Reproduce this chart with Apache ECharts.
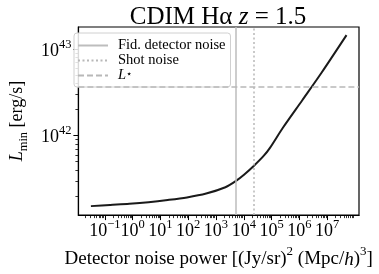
<!DOCTYPE html>
<html><head><meta charset="utf-8">
<script src="https://cdn.jsdelivr.net/npm/echarts@6/dist/echarts.min.js"></script>
<style>html,body{margin:0;padding:0;background:#fff}#c{width:379px;height:274px}</style>
</head><body><div id="c"></div>
<script>
// Detector noise power [(Jy/sr)^2 (Mpc/h)^3]
const noisePower = [0.0313, 0.154, 0.757, 3.72, 18.3, 90.2, 444, 2180, 5120, 1.07e4, 2.38e4, 5.28e4, 8.9e4, 2.60e5, 1.28e6, 6.30e6, 5.00e7];
// L_min [erg/s]
const lMin = [1.53e41, 1.58e41, 1.63e41, 1.70e41, 1.80e41, 1.93e41, 2.14e41, 2.53e41, 2.97e41, 3.57e41, 4.51e41, 5.85e41, 7.26e41, 1.24e42, 2.56e42, 5.31e42, 1.445e43];
const fidDetectorNoise = 5120;
const shotNoise = 2.38e4;
const lStar = 3.69e42;
const xMajorTicks = [1e-1, 1e0, 1e1, 1e2, 1e3, 1e4, 1e5, 1e6, 1e7];
const yMajorTicks = [1e42, 1e43];
const xRange = [0.0111, 1.41e8];
const yRange = [1.205e41, 1.795e43];
const legendNames = ['Fid. detector noise', 'Shot noise', 'L*'];

function minorsIn(range) {
  const out = [];
  const a = Math.floor(Math.log10(range[0])), b = Math.ceil(Math.log10(range[1]));
  for (let e = a; e <= b; e++) for (let m = 2; m <= 9; m++) {
    const v = m * Math.pow(10, e);
    if (v >= range[0] && v <= range[1]) out.push(v);
  }
  return out;
}
const FONT = 'Liberation Serif';
function expLabel(v) {
  const e = Math.round(Math.log10(v));
  return '{b|10}{s|' + (e < 0 ? '\u2212' + (-e) : e) + '}';
}
const tickRich = {
  b: {fontFamily: FONT, fontSize: 18, lineHeight: 22, verticalAlign: 'bottom', color: '#000'},
  s: {fontFamily: FONT, fontSize: 12.5, lineHeight: 12, verticalAlign: 'top', color: '#000'}
};

const chart = echarts.init(document.getElementById('c'), null, {renderer: 'canvas'});
const refLine = (name, type, value, axisKey, color) => ({
  name: name, type: 'line', data: [], z: 1,
  symbol: 'none', showSymbol: false,
  itemStyle: {color: color},
  lineStyle: {color: color, width: 1.5, type: type},
  markLine: {
    silent: true, symbol: ['none', 'none'], label: {show: false},
    lineStyle: {color: color, width: 1.5, type: type},
    data: [{[axisKey]: value}]
  }
});

chart.setOption({
  animation: false,
  backgroundColor: '#fff',
  title: {
    text: '{n|CDIM H\u03b1 }{i|z}{n| = 1.5}',
    left: 213, top: 0, textAlign: 'center',
    textStyle: {
      fontWeight: 'normal',
      rich: {
        n: {fontFamily: FONT, fontSize: 25, fontWeight: 'normal', color: '#000'},
        i: {fontFamily: FONT, fontSize: 25, fontWeight: 'normal', fontStyle: 'italic', color: '#000'}
      }
    }
  },
  grid: {left: 67, right: 20, top: 27, bottom: 55, show: true, borderColor: '#000', borderWidth: 1.2, backgroundColor: 'transparent'},
  legend: {
    data: legendNames,
    orient: 'vertical', left: 74, top: 33,
    padding: [5, 5, 4, 3], itemGap: 0, itemWidth: 30, itemHeight: 10,
    itemStyle: {opacity: 0},
    backgroundColor: 'rgba(255,255,255,0.85)', borderColor: '#d0d0d0', borderWidth: 1, borderRadius: 3,
    formatter: function (n) { return n === 'L*' ? '{i|L}{s|\u22c6}' : n; },
    textStyle: {
      fontFamily: FONT, fontSize: 14.5, lineHeight: 13, color: '#000', padding: [0, 0, 0, 5],
      rich: {
        i: {fontFamily: FONT, fontSize: 14.5, fontStyle: 'italic', color: '#000'},
        s: {fontFamily: FONT, fontSize: 10, verticalAlign: 'top', color: '#000'}
      }
    }
  },
  xAxis: [{
    type: 'log', logBase: 10, min: xRange[0], max: xRange[1],
    name: '{n|Detector noise power [(Jy/sr)}{s|2}{n| (Mpc/}{i|h}{n|)}{s|3}{n|]}',
    nameLocation: 'middle', nameGap: 28,
    nameTextStyle: {
      rich: {
        n: {fontFamily: FONT, fontSize: 19, lineHeight: 24, verticalAlign: 'bottom', color: '#000'},
        i: {fontFamily: FONT, fontSize: 19, lineHeight: 24, verticalAlign: 'bottom', fontStyle: 'italic', color: '#000'},
        s: {fontFamily: FONT, fontSize: 13, lineHeight: 13, verticalAlign: 'top', color: '#000'}
      }
    },
    axisLine: {show: true, lineStyle: {color: '#000', width: 1.2}},
    axisTick: {show: true, length: 5, lineStyle: {color: '#000', width: 1}, customValues: xMajorTicks},
    axisLabel: {show: true, margin: 3, customValues: xMajorTicks, formatter: expLabel, rich: tickRich},
    splitLine: {show: false}, minorTick: {show: false}
  }, {
    type: 'log', logBase: 10, min: xRange[0], max: xRange[1], position: 'bottom',
    axisLine: {show: false},
    axisTick: {show: true, length: 3, lineStyle: {color: '#000', width: 0.8}, customValues: minorsIn(xRange)},
    axisLabel: {show: false}, splitLine: {show: false}
  }],
  yAxis: [{
    type: 'log', logBase: 10, min: yRange[0], max: yRange[1],
    name: '{i|L}{sub|min}{n| [erg/s]}',
    nameLocation: 'middle', nameGap: 45,
    nameTextStyle: {
      rich: {
        n: {fontFamily: FONT, fontSize: 18, lineHeight: 22, verticalAlign: 'top', color: '#000'},
        i: {fontFamily: FONT, fontSize: 18, lineHeight: 22, verticalAlign: 'top', fontStyle: 'italic', color: '#000'},
        sub: {fontFamily: FONT, fontSize: 12.5, lineHeight: 12, verticalAlign: 'bottom', color: '#000'}
      }
    },
    axisLine: {show: true, lineStyle: {color: '#000', width: 1.2}},
    axisTick: {show: true, length: 5, lineStyle: {color: '#000', width: 1}, customValues: yMajorTicks},
    axisLabel: {show: true, margin: 7, customValues: yMajorTicks, formatter: expLabel, rich: tickRich},
    splitLine: {show: false}
  }, {
    type: 'log', logBase: 10, min: yRange[0], max: yRange[1], position: 'left',
    axisLine: {show: false},
    axisTick: {show: true, length: 3, lineStyle: {color: '#000', width: 0.8}, customValues: minorsIn(yRange)},
    axisLabel: {show: false}, splitLine: {show: false}
  }],
  series: [
    {
      name: 'curve', type: 'line', z: 3, symbol: 'none', smooth: 0.3,
      lineStyle: {color: '#1a1a1a', width: 2},
      data: noisePower.map((p, i) => [p, lMin[i]])
    },
    refLine('Fid. detector noise', 'solid', fidDetectorNoise, 'xAxis', '#bdbdbd'),
    refLine('Shot noise', [2, 2.5], shotNoise, 'xAxis', '#b8b8b8'),
    refLine('L*', [6, 3], lStar, 'yAxis', '#b8b8b8')
  ]
});
</script></body></html>
